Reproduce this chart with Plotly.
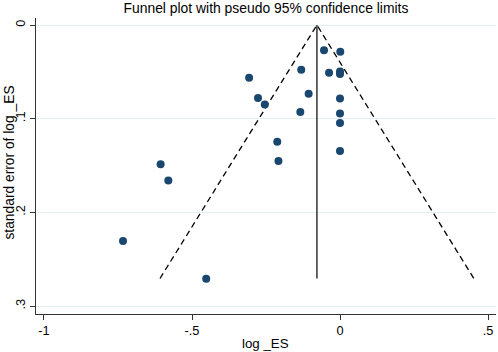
import plotly.graph_objects as go

# Study estimates (log effect size) and standard errors
log_es = [-0.054, 0.001, -0.131, -0.037, 0.0, 0.0, -0.307, -0.106, -0.277, -0.254,
          -0.134, 0.0, 0.0, 0.0, -0.212, 0.0, -0.208, -0.606, -0.58, -0.733, -0.452]
se_log_es = [0.027, 0.0285, 0.0477, 0.051, 0.0495, 0.0523, 0.0562, 0.0733, 0.0779, 0.0847,
             0.0928, 0.0783, 0.0943, 0.1046, 0.1245, 0.1345, 0.1451, 0.1487, 0.166, 0.2305, 0.2707]

pooled = -0.078
max_se = 0.2705
z = 1.96

x_ticks = [-1, -0.5, 0, 0.5]
x_tick_labels = ["-1", "-.5", "0", ".5"]
y_ticks = [0, 0.1, 0.2, 0.3]
y_tick_labels = ["0", ".1", ".2", ".3"]

navy = "#1a476f"
font = "Liberation Sans, Arial, sans-serif"

fig = go.Figure()

# pseudo 95% confidence limits
fig.add_trace(go.Scatter(
    x=[pooled - z * max_se, pooled, pooled + z * max_se],
    y=[max_se, 0, max_se],
    mode="lines",
    line=dict(color="black", width=1.3, dash="6px,4px"),
    hoverinfo="skip", showlegend=False))

# pooled estimate line
fig.add_trace(go.Scatter(
    x=[pooled, pooled], y=[0, max_se],
    mode="lines",
    line=dict(color="#555555", width=1.8),
    hoverinfo="skip", showlegend=False))

# studies
fig.add_trace(go.Scatter(
    x=log_es, y=se_log_es, mode="markers",
    marker=dict(color=navy, size=8),
    showlegend=False))

fig.update_layout(
    width=498, height=352,
    margin=dict(l=36, r=2, t=18, b=38, autoexpand=False),
    paper_bgcolor="white", plot_bgcolor="white",
    font=dict(family=font, color="black", size=12.5),
    title=dict(text="Funnel plot with pseudo 95% confidence limits",
               x=0.534, xanchor="center", y=0.977, yanchor="middle",
               font=dict(size=13.9, family=font, color="black")),
    xaxis=dict(
        range=[-1.027, 0.527],
        tickvals=x_ticks, ticktext=x_tick_labels,
        showgrid=False, zeroline=False, automargin=False,
        showline=True, linecolor="#333333", linewidth=1.2,
        ticks="outside", ticklen=5, tickcolor="#333333",
        tickfont=dict(size=12.8),
    ),
    yaxis=dict(
        range=[0.3084, -0.0075],
        tickvals=y_ticks, ticktext=y_tick_labels, tickangle=-90,
        showgrid=True, gridcolor="#e3eef0", gridwidth=1,
        zeroline=False, automargin=False,
        showline=True, linecolor="#333333", linewidth=1.2,
        ticks="outside", ticklen=5, tickcolor="#333333",
        tickfont=dict(size=12.8),
    ),
    annotations=[
        dict(text="log _ES", xref="paper", yref="paper", x=0.498, y=-0.098,
             xanchor="center", yanchor="middle", showarrow=False,
             font=dict(size=13.3, family=font, color="black")),
        dict(text="standard error of log _ES", xref="paper", yref="paper",
             x=-0.0576, y=0.51, xanchor="center", yanchor="middle",
             textangle=-90, showarrow=False,
             font=dict(size=13.8, family=font, color="black")),
    ],
)

fig.write_html("out.html", config={"displayModeBar": False})

# remove the browser's default page margin so the figure fills the window
with open("out.html", "r", encoding="utf-8") as f:
    html = f.read()
html = html.replace("<body>", '<body style="margin:0;padding:0;">', 1)
with open("out.html", "w", encoding="utf-8") as f:
    f.write(html)
